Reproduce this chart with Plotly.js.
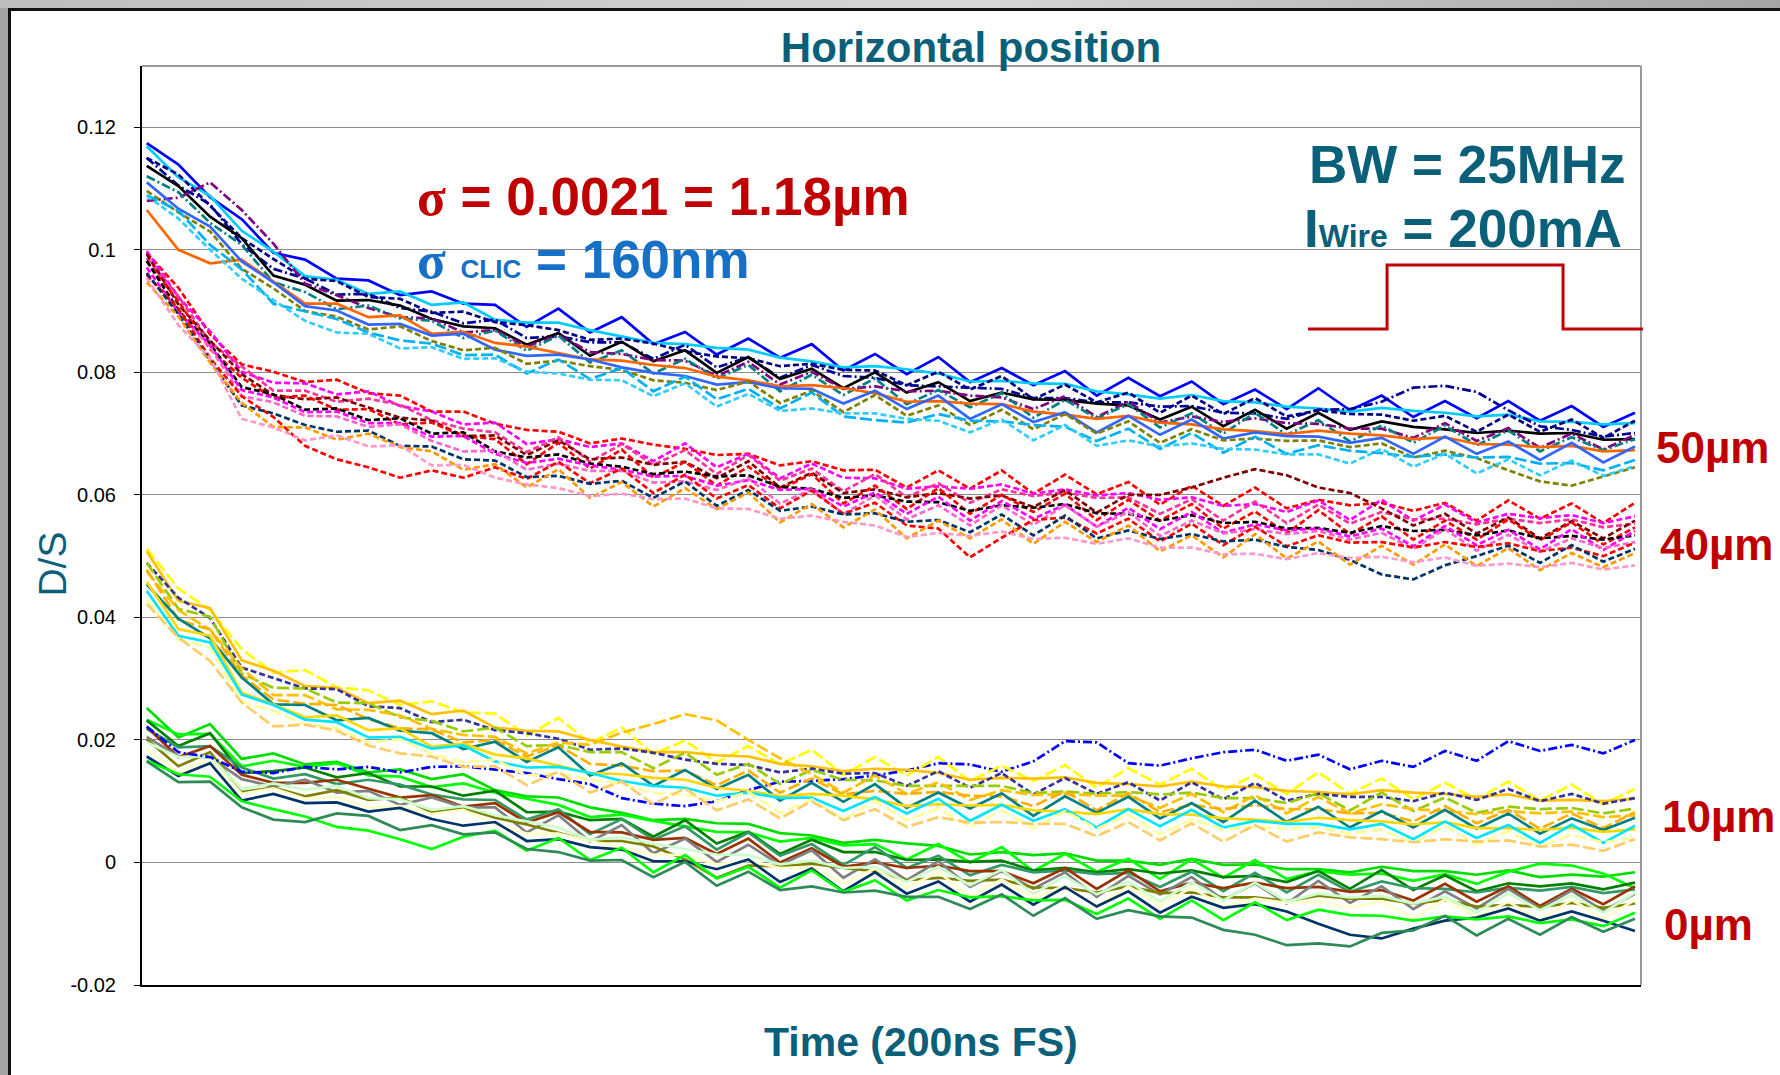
<!DOCTYPE html>
<html>
<head>
<meta charset="utf-8">
<script src="https://cdn.plot.ly/plotly-3.0.1.min.js"></script>
<style>
  html, body { margin:0; padding:0; background:#ffffff; overflow:hidden; }
  #chart { position:absolute; left:0; top:0; width:1780px; height:1075px; }
  .frame { position:absolute; pointer-events:none; }
</style>
</head>
<body>
<div id="chart"></div>
<div class="frame" style="left:0;top:0;width:8px;height:1075px;background:#a3a3a3;"></div>
<div class="frame" style="left:0;top:0;width:1780px;height:8px;background:linear-gradient(to right,#bdbdbd 0%,#d6d6d6 55%,#a4a4a4 100%);"></div>
<div class="frame" style="left:8px;top:8px;width:3px;height:1067px;background:#111111;"></div>
<div class="frame" style="left:8px;top:8px;width:1772px;height:3px;background:#111111;"></div>
<script>
// ---------- sample index (time axis, 200 ns full scale) ----------
const sampleIdx = [0,1,2,3,4,5,6,7,8,9,10,11,12,13,14,15,16,17,18,19,20,21,22,23,24,25,26,27,28,29,30,31,32,33,34,35,36,37,38,39,40,41,42,43,44,45,46,47];

// ---------- y-axis ticks ----------
const yTickVals = [-0.02, 0, 0.02, 0.04, 0.06, 0.08, 0.1, 0.12];
const yTickText = ["-0.02", "0", "0.02", "0.04", "0.06", "0.08", "0.1", "0.12"];

// ---------- 50 µm bundle (D/S) ----------
const s50_1 = [.1174,.1139,.1086,.1050,.0995,.0984,.0953,.0950,.0926,.0932,.0912,.0910,.0874,.0904,.0865,.0890,.0846,.0866,.0829,.0855,.0824,.0846,.0803,.0830,.0797,.0825,.0784,.0807,.0779,.0802,.0762,.0791,.0761,.0785,.0748,.0772,.0740,.0774,.0738,.0762,.0727,.0753,.0725,.0753,.0721,.0745,.0711,.0734];
const s50_2 = [.1169,.1118,.1088,.1031,.0997,.0957,.0951,.0928,.0932,.0910,.0914,.0886,.0881,.0881,.0869,.0858,.0848,.0846,.0840,.0837,.0824,.0818,.0808,.0810,.0805,.0798,.0785,.0786,.0782,.0781,.0769,.0764,.0757,.0763,.0753,.0751,.0744,.0741,.0736,.0742,.0737,.0734,.0728,.0731,.0720,.0719,.0715,.0717];
const s50_3 = [.1150,.1123,.1072,.1019,.0985,.0953,.0949,.0923,.0920,.0897,.0899,.0882,.0877,.0869,.0853,.0855,.0847,.0834,.0826,.0823,.0810,.0814,.0804,.0803,.0779,.0801,.0772,.0794,.0756,.0780,.0751,.0767,.0734,.0762,.0732,.0758,.0728,.0738,.0732,.0731,.0721,.0729,.0703,.0731,.0703,.0723,.0693,.0721];
const s50_4 = [.1150,.1105,.1074,.1009,.0969,.0953,.0927,.0928,.0905,.0899,.0880,.0886,.0856,.0859,.0849,.0849,.0822,.0845,.0808,.0825,.0791,.0812,.0794,.0791,.0779,.0777,.0774,.0773,.0758,.0758,.0751,.0751,.0744,.0745,.0734,.0733,.0724,.0739,.0740,.0752,.0775,.0778,.0768,.0738,.0712,.0706,.0695,.0701];
const s50_5 = [.1137,.1104,.1054,.1019,.0958,.0943,.0917,.0918,.0909,.0887,.0875,.0872,.0845,.0864,.0827,.0850,.0818,.0836,.0799,.0825,.0789,.0806,.0774,.0800,.0767,.0784,.0753,.0767,.0756,.0755,.0749,.0746,.0723,.0744,.0712,.0739,.0708,.0734,.0706,.0720,.0711,.0707,.0701,.0705,.0700,.0701,.0690,.0691];
const s50_6 = [.1080,.1085,.1110,.1065,.1010,.0945,.0926,.0905,.0890,.0888,.0865,.0869,.0842,.0861,.0833,.0830,.0820,.0819,.0794,.0817,.0780,.0801,.0773,.0777,.0769,.0770,.0762,.0759,.0740,.0761,.0727,.0752,.0718,.0728,.0719,.0725,.0717,.0716,.0708,.0708,.0693,.0717,.0688,.0709,.0677,.0700,.0674,.0698];
const s50_7 = [.1120,.1094,.1044,.1008,.0947,.0931,.0903,.0909,.0888,.0884,.0856,.0868,.0835,.0860,.0816,.0836,.0798,.0822,.0790,.0812,.0769,.0796,.0763,.0790,.0748,.0771,.0743,.0766,.0726,.0755,.0725,.0748,.0710,.0733,.0700,.0734,.0698,.0722,.0687,.0713,.0685,.0713,.0681,.0705,.0671,.0694,.0673,.0691];
const s50_8 = [.1065,.1000,.0978,.0984,.0948,.0912,.0912,.0890,.0893,.0863,.0866,.0848,.0842,.0831,.0821,.0819,.0812,.0807,.0793,.0787,.0777,.0779,.0774,.0766,.0752,.0753,.0749,.0748,.0736,.0731,.0724,.0729,.0718,.0715,.0707,.0704,.0699,.0705,.0700,.0697,.0691,.0694,.0683,.0682,.0678,.0680,.0671,.0673];
const s50_9 = [.1110,.1067,.1038,.0981,.0947,.0908,.0901,.0878,.0879,.0860,.0863,.0837,.0827,.0829,.0821,.0808,.0799,.0794,.0780,.0784,.0774,.0773,.0749,.0770,.0740,.0762,.0724,.0748,.0719,.0735,.0702,.0729,.0698,.0723,.0692,.0702,.0696,.0695,.0685,.0693,.0667,.0695,.0667,.0687,.0657,.0685,.0653,.0679];
const s50_10 = [.1096,.1061,.1030,.0969,.0937,.0900,.0891,.0870,.0875,.0851,.0836,.0840,.0814,.0819,.0810,.0804,.0787,.0783,.0771,.0785,.0750,.0770,.0735,.0763,.0729,.0746,.0714,.0739,.0707,.0732,.0700,.0720,.0685,.0707,.0689,.0692,.0688,.0689,.0678,.0684,.0661,.0672,.0660,.0640,.0622,.0615,.0630,.0645];
const s50_11 = [.1089,.1064,.1008,.0968,.0912,.0900,.0887,.0865,.0852,.0847,.0828,.0829,.0798,.0821,.0789,.0807,.0769,.0793,.0756,.0773,.0741,.0767,.0728,.0722,.0718,.0732,.0721,.0720,.0714,.0711,.0688,.0708,.0675,.0701,.0669,.0695,.0667,.0681,.0672,.0668,.0662,.0666,.0661,.0662,.0651,.0652,.0640,.0657];
const s50_12 = [.1088,.1051,.1000,.0953,.0918,.0884,.0865,.0863,.0839,.0841,.0822,.0823,.0801,.0798,.0788,.0787,.0761,.0782,.0744,.0765,.0737,.0741,.0733,.0733,.0724,.0721,.0702,.0723,.0689,.0714,.0680,.0689,.0679,.0684,.0675,.0674,.0666,.0666,.0651,.0675,.0646,.0667,.0635,.0658,.0632,.0656,.0631,.0647];

// ---------- 40 µm bundle ----------
const s40_1 = [.0995,.0938,.0862,.0813,.0801,.0784,.0788,.0766,.0762,.0736,.0736,.0716,.0706,.0703,.0684,.0692,.0682,.0675,.0665,.0667,.0648,.0655,.0640,.0641,.0612,.0640,.0610,.0640,.0602,.0633,.0601,.0621,.0584,.0615,.0582,.0612,.0578,.0592,.0583,.0587,.0574,.0587,.0558,.0591,.0561,.0586,.0554,.0587];
const s40_2 = [.0998,.0923,.0867,.0801,.0783,.0782,.0764,.0769,.0745,.0736,.0715,.0718,.0683,.0691,.0678,.0684,.0655,.0684,.0645,.0667,.0627,.0651,.0628,.0627,.0610,.0614,.0610,.0617,.0602,.0609,.0599,.0603,.0592,.0596,.0582,.0585,.0572,.0591,.0559,.0592,.0558,.0584,.0555,.0569,.0562,.0567,.0554,.0565];
const s40_3 = [.0987,.0924,.0849,.0809,.0770,.0770,.0752,.0757,.0747,.0722,.0708,.0702,.0670,.0694,.0654,.0683,.0649,.0673,.0634,.0665,.0623,.0643,.0606,.0634,.0596,.0619,.0587,.0609,.0598,.0604,.0595,.0596,.0569,.0593,.0558,.0589,.0554,.0584,.0553,.0572,.0560,.0561,.0552,.0561,.0554,.0560,.0547,.0553];
const s40_4 = [.0993,.0911,.0852,.0797,.0763,.0756,.0759,.0742,.0726,.0721,.0696,.0697,.0665,.0689,.0658,.0661,.0649,.0654,.0627,.0655,.0612,.0636,.0603,.0609,.0596,.0603,.0594,.0599,.0580,.0608,.0571,.0600,.0600,.0612,.0628,.0642,.0632,.0612,.0603,.0578,.0550,.0569,.0537,.0563,.0529,.0557,.0529,.0558];
const s40_5 = [.0981,.0916,.0838,.0791,.0758,.0762,.0739,.0740,.0715,.0718,.0696,.0691,.0650,.0685,.0643,.0674,.0628,.0654,.0615,.0646,.0609,.0634,.0586,.0615,.0577,.0611,.0569,.0600,.0572,.0602,.0559,.0592,.0558,.0585,.0545,.0573,.0537,.0575,.0536,.0565,.0527,.0558,.0527,.0560,.0526,.0555,.0519,.0547];
const s40_6 = [.0982,.0901,.0846,.0776,.0764,.0739,.0741,.0722,.0725,.0700,.0702,.0671,.0661,.0666,.0651,.0646,.0634,.0638,.0630,.0632,.0613,.0610,.0595,.0599,.0589,.0588,.0574,.0583,.0579,.0585,.0570,.0569,.0558,.0567,.0554,.0556,.0545,.0546,.0538,.0549,.0541,.0543,.0534,.0542,.0529,.0533,.0527,.0534];
const s40_7 = [.0971,.0898,.0844,.0771,.0759,.0735,.0736,.0717,.0717,.0695,.0696,.0667,.0652,.0659,.0648,.0641,.0630,.0631,.0615,.0624,.0608,.0610,.0581,.0604,.0569,.0597,.0558,.0590,.0561,.0584,.0548,.0579,.0544,.0572,.0538,.0552,.0542,.0545,.0532,.0545,.0516,.0549,.0518,.0543,.0511,.0544,.0510,.0541];
const s40_8 = [.0962,.0897,.0841,.0761,.0751,.0729,.0728,.0711,.0715,.0688,.0671,.0672,.0641,.0651,.0639,.0639,.0620,.0622,.0608,.0627,.0586,.0609,.0569,.0599,.0560,.0583,.0550,.0583,.0551,.0583,.0548,.0572,.0533,.0558,.0537,.0544,.0536,.0541,.0527,.0538,.0512,.0544,.0509,.0535,.0507,.0529,.0513,.0523];
const s40_9 = [.0959,.0904,.0823,.0761,.0727,.0680,.0658,.0645,.0628,.0640,.0628,.0645,.0626,.0654,.0619,.0643,.0603,.0633,.0594,.0616,.0578,.0607,.0569,.0587,.0550,.0545,.0498,.0530,.0559,.0563,.0537,.0561,.0524,.0553,.0518,.0548,.0516,.0534,.0522,.0523,.0514,.0523,.0515,.0521,.0508,.0514,.0500,.0522];
const s40_10 = [.0962,.0895,.0819,.0746,.0733,.0714,.0703,.0705,.0680,.0679,.0658,.0656,.0629,.0631,.0618,.0623,.0595,.0622,.0582,.0608,.0574,.0581,.0568,.0570,.0556,.0559,.0539,.0568,.0534,.0566,.0529,.0542,.0528,.0536,.0524,.0527,.0515,.0510,.0494,.0470,.0462,.0485,.0500,.0517,.0489,.0518,.0491,.0512];
const s40_11 = [.0947,.0891,.0816,.0750,.0711,.0710,.0690,.0700,.0678,.0671,.0641,.0650,.0612,.0642,.0595,.0621,.0581,.0611,.0577,.0604,.0555,.0585,.0547,.0576,.0529,.0558,.0529,.0560,.0520,.0556,.0523,.0550,.0508,.0534,.0498,.0536,.0496,.0524,.0486,.0517,.0486,.0519,.0484,.0513,.0477,.0505,.0482,.0505];
const s40_12 = [.0954,.0877,.0823,.0724,.0710,.0689,.0697,.0679,.0681,.0648,.0649,.0628,.0617,.0611,.0598,.0602,.0593,.0594,.0578,.0577,.0561,.0566,.0556,.0550,.0531,.0538,.0533,.0540,.0528,.0530,.0520,.0529,.0514,.0514,.0503,.0504,.0495,.0505,.0497,.0499,.0490,.0498,.0484,.0488,.0482,.0489,.0478,.0485];

// ---------- 10 µm bundle ----------
const s10_1 = [.0512,.0447,.0412,.0348,.0310,.0314,.0286,.0281,.0257,.0263,.0245,.0243,.0207,.0236,.0195,.0220,.0177,.0199,.0163,.0190,.0160,.0184,.0143,.0172,.0142,.0172,.0133,.0158,.0133,.0159,.0122,.0154,.0127,.0153,.0118,.0143,.0112,.0147,.0112,.0137,.0103,.0130,.0103,.0132,.0101,.0127,.0095,.0120];
const s10_2 = [.0508,.0427,.0415,.0330,.0313,.0288,.0285,.0260,.0264,.0242,.0248,.0220,.0215,.0214,.0200,.0189,.0180,.0180,.0175,.0173,.0161,.0157,.0149,.0153,.0151,.0146,.0135,.0138,.0137,.0139,.0130,.0128,.0124,.0132,.0124,.0123,.0117,.0115,.0111,.0118,.0114,.0112,.0107,.0111,.0101,.0102,.0100,.0104];
const s10_3 = [.0489,.0432,.0399,.0318,.0301,.0284,.0283,.0255,.0252,.0229,.0233,.0216,.0211,.0202,.0184,.0186,.0179,.0168,.0161,.0159,.0147,.0153,.0145,.0146,.0125,.0149,.0122,.0146,.0111,.0138,.0112,.0131,.0101,.0131,.0103,.0130,.0101,.0112,.0107,.0107,.0100,.0114,.0102,.0120,.0100,.0112,.0096,.0105];
const s10_4 = [.0489,.0414,.0401,.0308,.0285,.0284,.0261,.0260,.0237,.0231,.0214,.0220,.0190,.0192,.0180,.0180,.0154,.0179,.0143,.0161,.0128,.0151,.0135,.0134,.0125,.0125,.0124,.0125,.0113,.0116,.0112,.0115,.0111,.0114,.0105,.0105,.0097,.0113,.0085,.0114,.0084,.0106,.0081,.0091,.0087,.0089,.0080,.0088];
const s10_5 = [.0475,.0412,.0380,.0317,.0273,.0273,.0250,.0249,.0240,.0218,.0208,.0205,.0178,.0196,.0192,.0212,.0226,.0242,.0232,.0200,.0170,.0144,.0114,.0142,.0112,.0131,.0102,.0118,.0110,.0112,.0109,.0109,.0089,.0112,.0082,.0110,.0080,.0107,.0080,.0095,.0087,.0084,.0079,.0084,.0080,.0083,.0074,.0077];
const s10_6 = [.0478,.0396,.0380,.0305,.0266,.0259,.0257,.0234,.0219,.0217,.0196,.0200,.0173,.0191,.0161,.0158,.0149,.0150,.0126,.0150,.0114,.0137,.0111,.0117,.0112,.0115,.0109,.0108,.0092,.0116,.0085,.0113,.0082,.0094,.0087,.0094,.0087,.0087,.0080,.0081,.0067,.0092,.0064,.0086,.0055,.0080,.0056,.0082];
const s10_7 = [.0454,.0398,.0366,.0302,.0258,.0257,.0232,.0236,.0215,.0211,.0185,.0197,.0164,.0188,.0142,.0162,.0125,.0151,.0120,.0143,.0101,.0130,.0099,.0128,.0089,.0114,.0088,.0113,.0076,.0108,.0081,.0107,.0072,.0097,.0066,.0101,.0066,.0091,.0057,.0084,.0057,.0086,.0055,.0080,.0047,.0072,.0053,.0073];
const s10_8 = [.0458,.0381,.0370,.0277,.0258,.0237,.0240,.0216,.0219,.0189,.0194,.0176,.0170,.0158,.0146,.0144,.0138,.0135,.0122,.0117,.0108,.0112,.0109,.0103,.0092,.0095,.0093,.0094,.0085,.0083,.0079,.0087,.0079,.0078,.0072,.0070,.0066,.0073,.0069,.0067,.0062,.0066,.0056,.0056,.0053,.0057,.0050,.0054];
const s10_9 = [.0443,.0370,.0359,.0274,.0257,.0233,.0229,.0204,.0205,.0186,.0191,.0165,.0155,.0156,.0146,.0133,.0125,.0122,.0109,.0114,.0105,.0106,.0084,.0107,.0080,.0104,.0068,.0094,.0068,.0087,.0057,.0087,.0059,.0086,.0057,.0068,.0063,.0063,.0054,.0063,.0038,.0067,.0040,.0061,.0032,.0062,.0032,.0060];
const s10_10 = [.0429,.0364,.0351,.0262,.0247,.0225,.0219,.0196,.0201,.0177,.0164,.0168,.0142,.0146,.0135,.0129,.0113,.0111,.0100,.0115,.0081,.0103,.0070,.0100,.0069,.0088,.0058,.0085,.0056,.0084,.0055,.0078,.0046,.0070,.0054,.0058,.0055,.0057,.0047,.0054,.0032,.0060,.0029,.0051,.0026,.0045,.0033,.0040];
const s10_11 = [.0422,.0367,.0329,.0261,.0222,.0225,.0215,.0191,.0178,.0173,.0156,.0157,.0126,.0148,.0114,.0132,.0095,.0121,.0085,.0103,.0072,.0100,.0069,.0087,.0058,.0074,.0065,.0066,.0063,.0063,.0043,.0066,.0036,.0064,.0034,.0061,.0034,.0049,.0041,.0038,.0033,.0038,.0034,.0036,.0026,.0029,.0019,.0038];

// ---------- 0 µm bundle ----------
const s0_1 = [.0252,.0204,.0226,.0169,.0178,.0160,.0164,.0147,.0152,.0136,.0144,.0118,.0108,.0106,.0090,.0081,.0069,.0071,.0064,.0063,.0048,.0044,.0032,.0037,.0031,.0027,.0013,.0017,.0012,.0015,.0003,.0003,-.0004,.0006,-.0004,-.0003,-.0011,-.0011,-.0016,-.0007,-.0014,-.0014,-.0020,-.0013,-.0024,-.0020,-.0023,-.0016];
const s0_2 = [.0233,.0209,.0210,.0157,.0166,.0156,.0162,.0142,.0140,.0123,.0129,.0114,.0104,.0094,.0074,.0078,.0068,.0059,.0050,.0049,.0034,.0040,.0028,.0030,.0005,.0030,.0000,.0025,-.0014,.0014,-.0015,.0006,-.0027,.0005,-.0025,.0004,-.0027,-.0014,-.0020,-.0018,-.0030,-.0019,-.0035,-.0015,-.0002,-.0005,-.0018,-.0042];
const s0_3 = [.0232,.0190,.0211,.0146,.0149,.0155,.0139,.0146,.0124,.0124,.0109,.0117,.0082,.0083,.0069,.0071,.0042,.0069,.0031,.0050,.0014,.0037,.0017,.0017,.0004,.0005,.0001,.0003,-.0013,-.0009,-.0016,-.0011,-.0018,-.0013,-.0024,-.0022,-.0032,-.0014,-.0043,-.0012,-.0045,-.0021,-.0047,-.0034,-.0039,-.0034,-.0044,-.0033];
const s0_4 = [.0218,.0188,.0190,.0155,.0137,.0144,.0128,.0135,.0127,.0111,.0103,.0102,.0070,.0087,.0046,.0071,.0037,.0059,.0021,.0049,.0011,.0030,-.0004,.0025,-.0009,.0011,-.0021,-.0004,-.0016,-.0013,-.0019,-.0017,-.0040,-.0015,-.0047,-.0017,-.0049,-.0020,-.0048,-.0031,-.0042,-.0043,-.0049,-.0041,-.0046,-.0040,-.0050,-.0044];
const s0_5 = [.0221,.0172,.0190,.0143,.0130,.0130,.0135,.0120,.0106,.0110,.0091,.0097,.0065,.0082,.0050,.0049,.0037,.0040,.0014,.0039,.0000,.0023,-.0007,.0000,-.0009,-.0005,-.0014,-.0014,-.0034,-.0009,-.0043,-.0013,-.0047,-.0033,-.0042,-.0033,-.0042,-.0040,-.0048,-.0045,-.0062,-.0035,-.0064,-.0039,-.0071,-.0043,-.0068,-.0039];
const s0_6 = [.0205,.0173,.0172,.0136,.0124,.0135,.0114,.0117,.0094,.0106,.0090,.0090,.0049,.0077,.0034,.0061,.0015,.0039,.0001,.0029,-.0004,.0020,-.0025,.0005,-.0029,.0002,-.0040,-.0014,-.0043,-.0016,-.0056,-.0022,-.0052,-.0024,-.0061,-.0034,-.0067,-.0030,-.0066,-.0039,-.0076,-.0047,-.0075,-.0043,-.0075,-.0046,-.0079,-.0051];
const s0_7 = [.0201,.0157,.0180,.0115,.0122,.0108,.0118,.0102,.0106,.0082,.0089,.0073,.0062,.0049,.0035,.0035,.0026,.0005,-.0025,-.0005,-.0006,-.0002,-.0009,-.0014,-.0029,-.0025,-.0030,-.0028,-.0041,-.0042,-.0049,-.0039,-.0050,-.0049,-.0057,-.0057,-.0063,-.0054,-.0059,-.0059,-.0067,-.0061,-.0072,-.0069,-.0073,-.0066,-.0074,-.0067];
const s0_8 = [.0186,.0146,.0169,.0112,.0121,.0104,.0107,.0090,.0092,.0079,.0086,.0062,.0047,.0047,.0035,.0024,.0013,.0012,-.0003,.0003,-.0009,-.0008,-.0034,-.0010,-.0041,-.0016,-.0055,-.0028,-.0058,-.0038,-.0071,-.0039,-.0070,-.0041,-.0072,-.0059,-.0066,-.0064,-.0074,-.0063,-.0091,-.0060,-.0088,-.0064,-.0094,-.0061,-.0092,-.0061];
const s0_9 = [.0173,.0141,.0162,.0101,.0112,.0097,.0098,.0083,.0089,.0071,.0060,.0066,.0035,.0038,.0025,.0021,.0002,.0002,-.0011,.0005,-.0032,-.0010,-.0047,-.0016,-.0051,-.0031,-.0064,-.0036,-.0069,-.0040,-.0072,-.0047,-.0082,-.0056,-.0074,-.0068,-.0080,-.0100,-.0118,-.0124,-.0108,-.0095,-.0090,-.0075,-.0095,-.0080,-.0095,-.0112];
const s0_10 = [.0166,.0144,.0140,.0100,.0087,.0075,.0058,.0052,.0038,.0022,.0042,.0052,.0019,.0040,.0004,.0024,-.0016,.0012,-.0026,-.0007,-.0041,-.0013,-.0048,-.0029,-.0062,-.0045,-.0057,-.0055,-.0062,-.0061,-.0084,-.0059,-.0092,-.0062,-.0094,-.0065,-.0094,-.0077,-.0086,-.0087,-.0095,-.0088,-.0093,-.0088,-.0099,-.0093,-.0104,-.0082];
const s0_11 = [.0165,.0131,.0132,.0090,.0070,.0066,.0080,.0076,.0053,.0061,.0046,.0049,.0022,.0017,.0003,.0004,-.0024,.0001,-.0038,-.0015,-.0045,-.0039,-.0049,-.0046,-.0056,-.0056,-.0076,-.0052,-.0087,-.0058,-.0092,-.0078,-.0088,-.0090,-.0110,-.0118,-.0135,-.0132,-.0137,-.0115,-.0111,-.0087,-.0119,-.0092,-.0118,-.0089,-.0113,-.0092];
const s0_12 = [.0196,.0172,.0173,.0120,.0129,.0119,.0125,.0105,.0103,.0086,.0092,.0077,.0067,.0057,.0037,.0041,.0031,.0022,.0013,.0012,-.0003,.0003,-.0009,-.0007,-.0032,-.0007,-.0037,-.0012,-.0051,-.0023,-.0052,-.0031,-.0064,-.0032,-.0062,-.0033,-.0064,-.0051,-.0057,-.0055,-.0067,-.0056,-.0082,-.0050,-.0078,-.0053,-.0082,-.0049];
const s0_13 = [.0222,.0180,.0172,.0148,.0146,.0156,.0152,.0156,.0147,.0156,.0157,.0151,.0146,.0136,.0128,.0105,.0096,.0092,.0100,.0118,.0132,.0133,.0136,.0142,.0150,.0162,.0160,.0148,.0165,.0198,.0196,.0162,.0158,.0170,.0180,.0184,.0166,.0176,.0152,.0166,.0156,.0182,.0166,.0198,.0182,.0192,.0178,.0200];

// ---------- styles (kept apart from the data) ----------
const TEAL = '#0a6078', DARKRED = '#c00000', BLUE = '#1670c6';
const FONT = 'Arial, "Liberation Sans", sans-serif';
const D_SHORT = '6px,3px', D_LONG = '12px,4px', D_DOT = '9px,3px,2px,3px';

const bundle50 = [
  [s50_1,'#0000ff','solid'],[s50_2,'#00ccff','solid'],[s50_3,'#000080',D_SHORT],
  [s50_4,'#000099',D_DOT],[s50_5,'#000000','solid'],[s50_6,'#800080',D_DOT],
  [s50_7,'#008080',D_DOT],[s50_8,'#ff6600','solid'],[s50_9,'#3366ff','solid'],
  [s50_10,'#808000',D_SHORT],[s50_11,'#00b0f0',D_LONG],[s50_12,'#33ccff',D_SHORT]
];
const bundle40 = [
  [s40_1,'#ff0000',D_SHORT],[s40_2,'#ff00ff',D_SHORT],[s40_3,'#ff3399',D_SHORT],
  [s40_4,'#800000',D_SHORT],[s40_5,'#ff0000',D_SHORT],[s40_6,'#000000',D_SHORT],
  [s40_7,'#ff00ff',D_SHORT],[s40_8,'#ff66cc',D_SHORT],[s40_9,'#ff0000',D_SHORT],
  [s40_10,'#003366',D_SHORT],[s40_11,'#ff9900',D_SHORT],[s40_12,'#ff99cc',D_SHORT]
];
const bundle10 = [
  [s10_1,'#ffff00',D_LONG],[s10_2,'#ffc000','solid'],[s10_3,'#333399',D_SHORT],
  [s10_4,'#99cc00',D_LONG],[s10_5,'#ffc000',D_LONG],[s10_6,'#ffb000',D_LONG],
  [s10_7,'#008080','solid'],[s10_8,'#ffd700','solid'],[s10_9,'#00e5ff','solid'],
  [s10_10,'#ffff99',D_LONG],[s10_11,'#ffcc66',D_LONG]
];
const bundle0 = [
  [s0_1,'#00dd00','solid'],[s0_2,'#00ff00','solid'],[s0_3,'#008000','solid'],
  [s0_4,'#339966','solid'],[s0_5,'#993300','solid'],[s0_6,'#808080','solid'],
  [s0_7,'#808000','solid'],[s0_8,'#ffffcc','solid'],[s0_9,'#003366','solid'],
  [s0_10,'#00ff00','solid'],[s0_11,'#2e8b57','solid'],[s0_12,'#ccffcc','solid'],
  [s0_13,'#0000ff',D_DOT]
];

const traces = [];
[bundle0, bundle10, bundle40, bundle50].forEach(function (b) {
  b.forEach(function (s) {
    traces.push({
      x: sampleIdx, y: s[0], type: 'scatter', mode: 'lines',
      line: { color: s[1], dash: s[2], width: 2.7 },
      hoverinfo: 'skip', showlegend: false
    });
  });
});

const serif = "font-family:'Liberation Serif', 'DejaVu Serif', serif";
const annotations = [
  { text: '<b>Time (200ns FS)</b>', x: 0.520, y: -0.0624, font: { size: 41, color: TEAL } },
  { text: 'D/S', x: -0.0603, y: 0.4581, textangle: -90, font: { size: 39, color: TEAL } },
  { text: '<b><span style="' + serif + '">σ</span> = 0.0021 = 1.18µm</b>', x: 0.1821, y: 0.8575, xanchor: 'left', font: { size: 53, color: DARKRED } },
  { text: '<b><span style="' + serif + '">σ</span> <span style="font-size:26px">CLIC</span> = 160nm</b>', x: 0.1821, y: 0.7891, xanchor: 'left', font: { size: 53, color: BLUE } },
  { text: '<b>BW = 25MHz</b>', x: 0.9913, y: 0.8923, xanchor: 'right', font: { size: 53, color: TEAL } },
  { text: '<b>I<span style="font-size:32px">Wire</span> = 200mA</b>', x: 0.9887, y: 0.8232, xanchor: 'right', font: { size: 53, color: TEAL } },
  { text: '<b>50µm</b>', x: 1.0087, y: 0.5848, xanchor: 'left', font: { size: 44, color: DARKRED } },
  { text: '<b>40µm</b>', x: 1.0113, y: 0.4792, xanchor: 'left', font: { size: 44, color: DARKRED } },
  { text: '<b>10µm</b>', x: 1.0127, y: 0.1836, xanchor: 'left', font: { size: 44, color: DARKRED } },
  { text: '<b>0µm</b>', x: 1.0140, y: 0.0657, xanchor: 'left', font: { size: 44, color: DARKRED } }
].map(function (a) {
  return Object.assign({ xref: 'paper', yref: 'paper', showarrow: false, yanchor: 'middle', xanchor: 'center' }, a,
    { font: Object.assign({ family: FONT }, a.font) });
});

const layout = {
  width: 1780, height: 1075, autosize: false,
  margin: { l: 142, r: 139, t: 66, b: 90, pad: 0 },
  paper_bgcolor: '#ffffff', plot_bgcolor: '#ffffff',
  showlegend: false,
  font: { family: FONT, color: '#000000' },
  title: {
    text: '<b>Horizontal position</b>',
    font: { family: FONT, size: 42, color: TEAL },
    xref: 'paper', x: 0.553, xanchor: 'center',
    yref: 'container', y: 0.9563, yanchor: 'middle'
  },
  xaxis: {
    range: [-0.15, 47.19], showgrid: false, zeroline: false,
    showticklabels: false, ticks: '', showline: true, linecolor: '#000000', linewidth: 2,
    fixedrange: true
  },
  yaxis: {
    range: [-0.02, 0.13], tickmode: 'array', tickvals: yTickVals, ticktext: yTickText,
    showgrid: true, gridcolor: '#8c8c8c', gridwidth: 1, zeroline: false,
    showline: true, linecolor: '#000000', linewidth: 2,
    ticks: 'outside', ticklen: 6, tickwidth: 1, tickcolor: '#000000',
    ticklabelstandoff: 14,
    tickfont: { family: FONT, size: 20, color: '#000000' },
    fixedrange: true
  },
  shapes: [
    { type: 'line', xref: 'paper', yref: 'paper', x0: 0, x1: 1, y0: 1, y1: 1, line: { color: '#9a9a9a', width: 2 } },
    { type: 'line', xref: 'paper', yref: 'paper', x0: 1, x1: 1, y0: 0, y1: 1, line: { color: '#9a9a9a', width: 2 } },
    { type: 'path', xref: 'paper', yref: 'paper',
      path: 'M 0.7779 0.7138 L 0.8306 0.7138 L 0.8306 0.7835 L 0.9480 0.7835 L 0.9480 0.7138 L 1.0013 0.7138',
      line: { color: DARKRED, width: 3 } }
  ],
  annotations: annotations
};

Plotly.newPlot('chart', traces, layout, { staticPlot: true, displayModeBar: false });
</script>
</body>
</html>
